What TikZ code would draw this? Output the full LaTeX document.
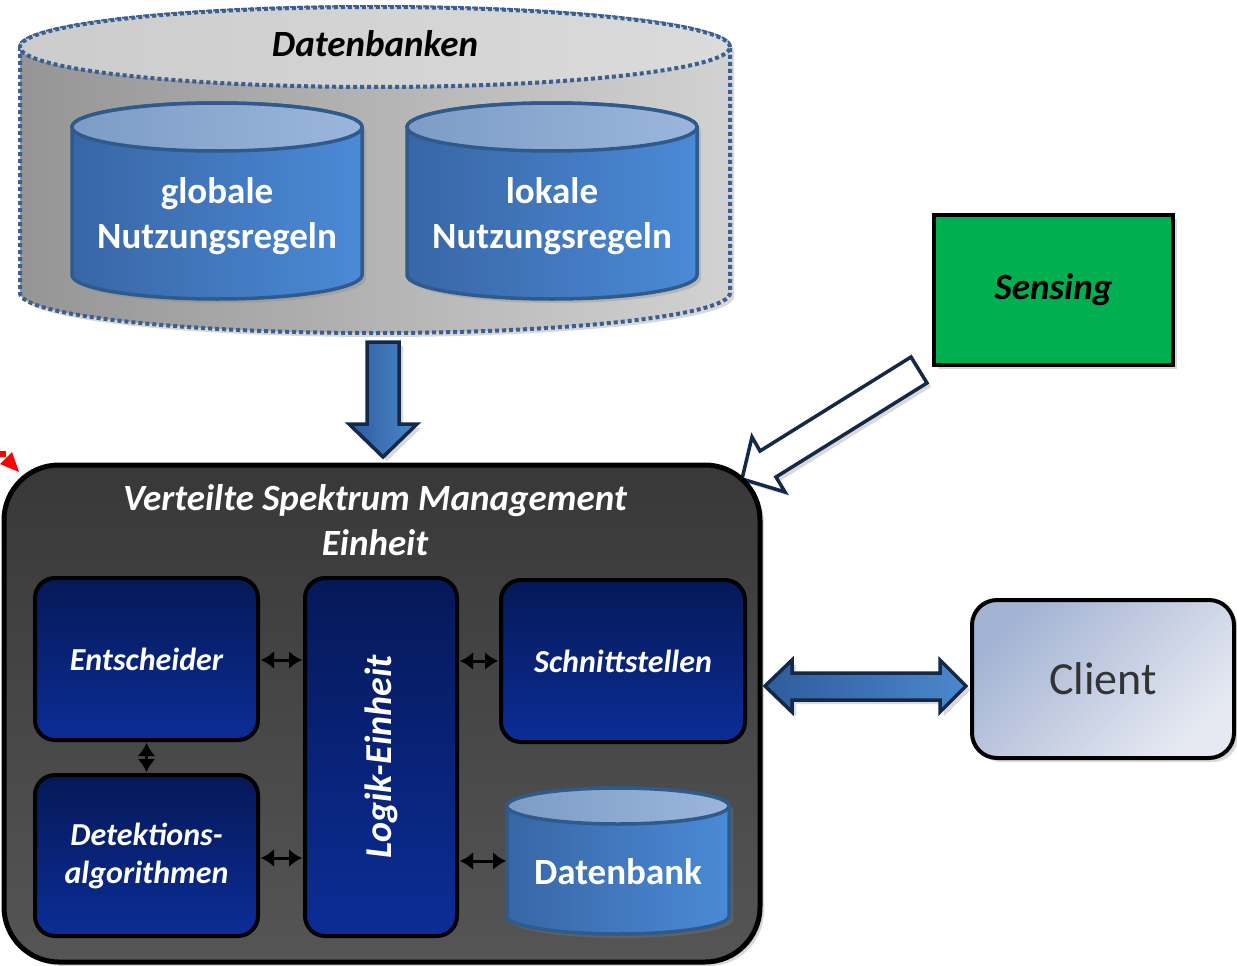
\documentclass[tikz,border=0pt]{standalone}
\usepackage{fontspec}
\setmainfont{Carlito}
\usetikzlibrary{arrows.meta,shadows,calc}
\definecolor{dotblue}{HTML}{3A5F90}
\definecolor{gdark}{HTML}{959595}
\definecolor{glight}{HTML}{D2D2D2}
\definecolor{cylA}{HTML}{3866A6}
\definecolor{cylB}{HTML}{4B8AD6}
\definecolor{cyltA}{HTML}{7C9CC6}
\definecolor{cyltB}{HTML}{9BB6DC}
\definecolor{cylline}{HTML}{2E5A8C}
\definecolor{navyA}{HTML}{051858}
\definecolor{navyB}{HTML}{0B2D96}
\definecolor{darkA}{HTML}{383838}
\definecolor{darkB}{HTML}{555555}
\definecolor{arrline}{HTML}{14284A}
\definecolor{arrA}{HTML}{2E5C9C}
\definecolor{arrB}{HTML}{4B88CC}
\definecolor{sensgreen}{HTML}{00B050}
\definecolor{cliA}{HTML}{A3B3D3}
\definecolor{cliB}{HTML}{E6E9F1}
\newcommand\drawcyl[7]{%
  \path[#6] ({#1-#2},{-#3}) -- ({#1-#2},{-#4})
    arc[start angle=180,end angle=360,x radius=#2,y radius=#5]
    -- ({#1+#2},{-#3})
    arc[start angle=0,end angle=180,x radius=#2,y radius=#5] -- cycle;
  \path[#7] (#1,{-#3}) ellipse[x radius=#2,y radius=#5];}
\tikzset{
  sh/.style={drop shadow={opacity=0.3,shadow xshift=4pt,shadow yshift=-4pt}},
  bigbody/.style={draw=dotblue,line width=4pt,dash pattern=on 4pt off 3pt,left color=gdark,right color=glight,sh},
  bigtop/.style={draw=dotblue,line width=4pt,dash pattern=on 4pt off 3pt,left color=glight!90!gdark,right color=glight!80!white},
  cylbody/.style={draw=cylline,line width=3.5pt,left color=cylA,right color=cylB,sh},
  cyltop/.style={draw=cylline,line width=3.5pt,left color=cyltA,right color=cyltB},
  inbox/.style={draw=black,line width=4pt,rounded corners=20pt,top color=navyA,bottom color=navyB,inner sep=0pt},
  bi/.style={font=\bfseries\itshape\fontsize{#1}{#1}\selectfont},
  lbl/.style={text=white,inner sep=0pt,align=center},
  sarrow/.style={line width=3pt,{Latex[length=13pt,width=18pt]}-{Latex[length=13pt,width=18pt]}},
  blockarrow/.style={draw=arrline,line width=3.5pt,line join=miter,left color=arrA,right color=arrB,sh},
}
\begin{document}
\begin{tikzpicture}[x=1pt,y=1pt]
\useasboundingbox (0,0) rectangle (1237,-966);

% Datenbanken outer cylinder
\drawcyl{375}{355}{47}{293}{40}{bigbody}{bigtop}
\node[bi=37,inner sep=0pt] (dbs) at (375,-44) {Datenbanken};

% inner cylinders
\drawcyl{217}{145}{127}{275}{24}{cylbody}{cyltop}
\drawcyl{552}{145}{127}{275}{24}{cylbody}{cyltop}
\node[lbl,font=\bfseries\fontsize{37}{45}\selectfont] (glob) at (217,-216) {globale\\Nutzungsregeln};
\node[lbl,font=\bfseries\fontsize{37}{45}\selectfont] (lok) at (552,-216) {lokale\\Nutzungsregeln};

% down arrow
\path[blockarrow] (367,-342) -- (399,-342) -- (399,-424) -- (417,-424) -- (383,-457) -- (349,-424) -- (367,-424) -- cycle;

% Sensing
\node[draw=black,line width=4pt,fill=sensgreen,minimum width=239pt,minimum height=150pt,sh,bi=37] (sens) at (1053.5,-290) {Sensing};

% hollow arrow
\path[draw=arrline,line width=3.5pt,fill=white,line join=miter,sh] (742,-479) -- (752,-437) -- (760,-451) -- (911,-357) -- (927,-383) -- (776,-477) -- (785,-492) -- cycle;

% main box
\node[draw=black,line width=5pt,rounded corners=55pt,top color=darkA,bottom color=darkB,minimum width=756pt,minimum height=497pt,sh] (main) at (382,-713.5) {};
\node[lbl,font=\bfseries\itshape\fontsize{37}{45}\selectfont] (title) at (375,-520) {Verteilte Spektrum Management\\Einheit};

% inner boxes
\node[inbox,minimum width=223pt,minimum height=162pt] (ent) at (146.5,-659) {};
\node[lbl,bi=32] at (ent) {Entscheider};
\node[inbox,minimum width=223pt,minimum height=161pt] (det) at (146.5,-855.5) {};
\node[lbl,font=\bfseries\itshape\fontsize{32}{38}\selectfont] at (det) {Detektions-\\algorithmen};
\node[inbox,minimum width=152pt,minimum height=358pt] (log) at (381,-757) {};
\node[lbl,bi=38,rotate=90] at (log) {Logik-Einheit};
\node[inbox,minimum width=244pt,minimum height=162pt] (sch) at (623,-661) {};
\node[lbl,bi=32] at (sch) {Schnittstellen};

% small Datenbank cylinder
\drawcyl{618}{111}{806}{916}{18}{cylbody}{cyltop}
\node[lbl,font=\bfseries\fontsize{37}{37}\selectfont] (db) at (618,-872) {Datenbank};
\coordinate (dbl) at (506,-861);

% small arrows
\draw[sarrow] ([xshift=1pt,yshift=-1pt]ent.east) -- ([xshift=-1pt,yshift=-1pt]ent.east -| log.west);
\draw[sarrow] ([xshift=1pt]log.east |- sch.west) -- ([xshift=-1pt]sch.west);
\draw[sarrow] ([xshift=1pt,yshift=-2.5pt]det.east) -- ([xshift=-1pt,yshift=-2.5pt]det.east -| log.west);
\draw[sarrow] ([xshift=1pt]log.east |- dbl) -- (dbl);
\draw[sarrow] ([yshift=-1pt]ent.south) -- ([yshift=1pt]det.north);

% Client
\node[draw=black,line width=4pt,rounded corners=25pt,left color=cliA,right color=cliB,shading angle=45,minimum width=262pt,minimum height=158pt,sh,text=black!80,font=\fontsize{46}{46}\selectfont] (cli) at (1103,-679) {Client};

% double arrow
\path[blockarrow] (765,-686) -- (792,-660) -- (792,-673) -- (940,-673) -- (940,-660) -- (966,-686) -- (940,-712) -- (940,-700) -- (792,-700) -- (792,-712) -- cycle;

% red marker
\fill[red] (0,-464) -- (12,-452) -- (19,-472) -- cycle;
\fill[red] (0,-451) rectangle (6,-457);
\end{tikzpicture}
\end{document}
